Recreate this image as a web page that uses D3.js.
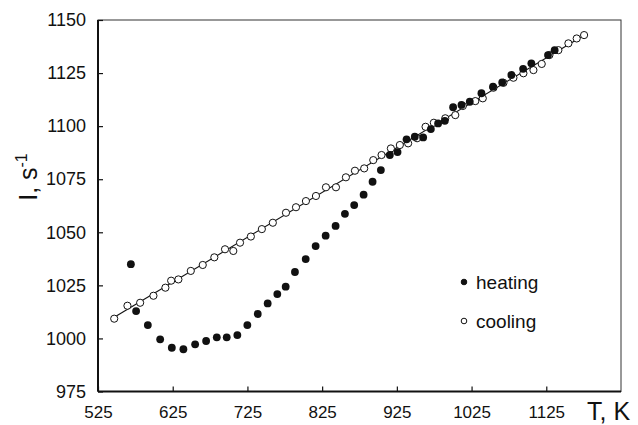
<!DOCTYPE html>
<html>
<head>
<meta charset="utf-8">
<script src="https://cdn.jsdelivr.net/npm/d3@7"></script>
<style>
    body { margin: 0; background: #fff; }
    svg { display: block; font-family: "Liberation Sans", Arial, sans-serif; }
</style>
</head>
<body>
<div id="chart"></div>
<script>
//Data (T in K, I in s^-1)
const heatingT = [569, 576, 591.7, 608.2, 623.8, 639.3, 655, 669.7, 684, 697.3, 711.5, 724.9, 738.8, 752.1,
    765, 776.2, 788.6, 803, 816.3, 829.7, 843, 855.5, 867.9, 880.5, 892.5, 903.6, 915.6, 925.9, 938, 949,
    960.2, 970.5, 980.2, 989.2, 1000.3, 1011.5, 1022.6, 1038.2, 1053.7, 1066, 1078.3, 1094, 1105, 1127.3, 1136.2]
const heatingI = [1035, 1012.9, 1006.3, 999.6, 995.6, 994.9, 997.2, 998.8, 1000.5, 1000.5, 1001.6, 1006.3, 1011.5, 1016.5,
    1020.9, 1024.4, 1031.3, 1037.4, 1043.5, 1048.4, 1053, 1058.7, 1062.8, 1067.7, 1073.8, 1079.3, 1086.4, 1087.8, 1093.8, 1095,
    1094.7, 1098.6, 1101.3, 1102.5, 1108.9, 1110, 1111.5, 1115.5, 1118.6, 1120.6, 1124.1, 1127, 1129.6, 1133.5, 1135.8]

const coolingT = [546.7, 564.4, 581.4, 599.2, 615.2, 622.9, 632.6, 649.2, 665.2, 680.7, 695, 706.1, 715.1, 729.6,
    744.3, 759, 776.6, 790, 803.3, 816.7, 830.1, 843.5, 856.8, 868.9, 881.3, 893.4, 904.5, 917, 929, 940.1,
    952.1, 963.4, 974.5, 989.8, 1003.2, 1013.3, 1030, 1040, 1054.3, 1067.7, 1081, 1094.4, 1107.8, 1118.9, 1129.2,
    1141.2, 1154.6, 1165.7, 1175.6]
const coolingI = [1009.3, 1015.4, 1016.8, 1020.1, 1023.9, 1027.2, 1027.8, 1031.8, 1034.6, 1038.2, 1042, 1041.2, 1045.1, 1048,
    1051.5, 1054.5, 1059.2, 1061.8, 1064.7, 1067.1, 1071.2, 1071.2, 1075.9, 1079, 1080.1, 1084, 1086.4, 1089.5, 1091.1, 1091.9,
    1094.3, 1099.7, 1101.6, 1103.7, 1105.2, 1109.5, 1111.8, 1113.1, 1118.1, 1120.4, 1122.8, 1124.9, 1126.4, 1129.3, 1133.5,
    1135.8, 1139, 1141.3, 1142.9]

const xTicks = [525, 625, 725, 825, 925, 1025, 1125]
const yTicks = [975, 1000, 1025, 1050, 1075, 1100, 1125, 1150]
const legendLabels = ["heating", "cooling"]

const width = 638
const height = 425
const plot = {left: 98, right: 621, top: 20, bottom: 391.5}

const heating = heatingT.map((t, i) => [t, heatingI[i]])
const cooling = coolingT.map((t, i) => [t, coolingI[i]])

//least squares line through the cooling run
const mx = d3.mean(cooling, d => d[0])
const my = d3.mean(cooling, d => d[1])
const slope = d3.sum(cooling, d => (d[0] - mx) * (d[1] - my)) / d3.sum(cooling, d => (d[0] - mx) ** 2)
const fit = t => my + slope * (t - mx)
const fitLine = d3.extent(coolingT).map(t => [t, fit(t)])

const xScale = d3.scaleLinear()
    .domain([525, 1225])
    .range([plot.left, plot.right])

const yScale = d3.scaleLinear()
    .domain([975, 1150])
    .range([plot.bottom, plot.top])

const $svg = d3.select("#chart").append("svg")
    .attr("width", width)
    .attr("height", height)

//frame: thin top/right, heavier axes
$svg.append("rect")
    .attr("x", plot.left)
    .attr("y", plot.top)
    .attr("width", plot.right - plot.left)
    .attr("height", plot.bottom - plot.top)
    .attr("fill", "none")
    .attr("stroke", "#333")
    .attr("stroke-width", 1)

const xAxis = g => g.attr("transform", `translate(0, ${plot.bottom})`)
    .call(d3.axisBottom(xScale).tickValues(xTicks).tickSize(-5).tickPadding(14).tickFormat(d3.format("d")))
    .call(g => g.select(".domain").remove())

const yAxis = g => g.attr("transform", `translate(${plot.left}, 0)`)
    .call(d3.axisLeft(yScale).tickValues(yTicks).tickSize(-5).tickPadding(12).tickFormat(d3.format("d")))
    .call(g => g.select(".domain").remove())

$svg.append("g").call(xAxis)
    .selectAll("text")
    .attr("font-size", 17)
    .attr("fill", "#111")
    .attr("font-family", "Liberation Sans, Arial, sans-serif")

$svg.append("g").call(yAxis)
    .selectAll("text")
    .attr("font-size", 18)
    .attr("fill", "#111")
    .attr("font-family", "Liberation Sans, Arial, sans-serif")

$svg.selectAll(".tick line")
    .attr("stroke", "#111")
    .attr("stroke-width", 1.2)

$svg.append("line")
    .attr("x1", plot.left).attr("x2", plot.left)
    .attr("y1", plot.top).attr("y2", plot.bottom)
    .attr("stroke", "#111")
    .attr("stroke-width", 2)

$svg.append("line")
    .attr("x1", plot.left).attr("x2", plot.right)
    .attr("y1", plot.bottom).attr("y2", plot.bottom)
    .attr("stroke", "#111")
    .attr("stroke-width", 2)

//axis titles
$svg.append("text")
    .attr("x", 587)
    .attr("y", 420)
    .attr("font-size", 25)
    .attr("fill", "#111")
    .text("T, K")

$svg.append("text")
    .attr("transform", "translate(37, 177) rotate(-90)")
    .attr("text-anchor", "middle")
    .attr("font-size", 25)
    .attr("fill", "#111")
    .text("I, s")
    .append("tspan")
    .attr("font-size", 16)
    .attr("dy", -10)
    .text("-1")

//fit line
$svg.append("path")
    .datum(fitLine)
    .attr("d", d3.line().x(d => xScale(d[0])).y(d => yScale(d[1])))
    .attr("stroke", "#111")
    .attr("stroke-width", 1.1)
    .attr("fill", "none")

$svg.selectAll(".cooling")
    .data(cooling)
    .enter().append("circle")
    .attr("class", "cooling")
    .attr("cx", d => xScale(d[0]))
    .attr("cy", d => yScale(d[1]))
    .attr("r", 3.6)
    .attr("fill", "#fff")
    .attr("stroke", "#111")
    .attr("stroke-width", 1)

$svg.selectAll(".heating")
    .data(heating)
    .enter().append("circle")
    .attr("class", "heating")
    .attr("cx", d => xScale(d[0]))
    .attr("cy", d => yScale(d[1]))
    .attr("r", 3.9)
    .attr("fill", "#111")

//legend
const $legend = $svg.append("g")
    .selectAll("g")
    .data(legendLabels)
    .enter().append("g")
    .attr("transform", (d, i) => `translate(464, ${282 + i * 39})`)

$legend.append("circle")
    .attr("r", 2.8)
    .attr("fill", (d, i) => i == 0 ? "#111" : "#fff")
    .attr("stroke", "#111")
    .attr("stroke-width", 1)

$legend.append("text")
    .attr("x", 12)
    .attr("dy", "0.35em")
    .attr("font-size", 19)
    .attr("fill", "#111")
    .text(d => d)
</script>
</body>
</html>
